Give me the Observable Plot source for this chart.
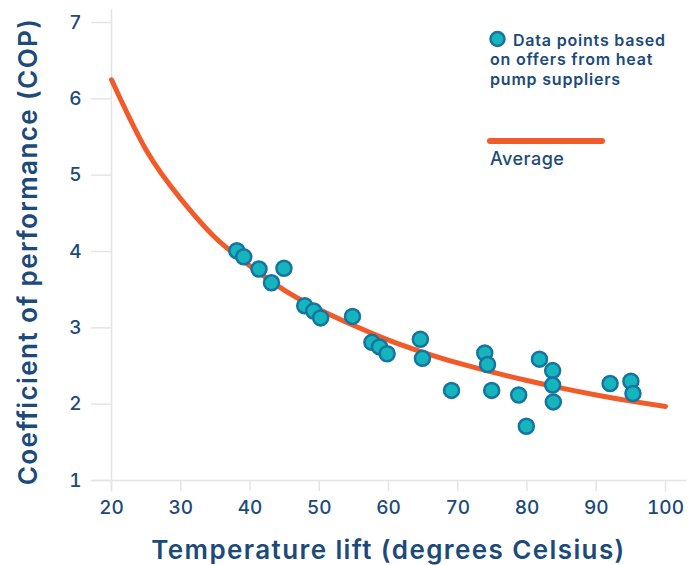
<!DOCTYPE html>
<html>
<head>
<meta charset="utf-8">
<script src="https://cdn.jsdelivr.net/npm/d3@7"></script>
<script src="https://cdn.jsdelivr.net/npm/@observablehq/plot@0.6"></script>
<style>
  html, body { margin: 0; padding: 0; background: #fff; }
  #chart svg { display: block; }
</style>
</head>
<body>
<div id="chart"></div>
<script>
// Data points based on offers from heat pump suppliers
const liftC = [38.1, 39.1, 41.3, 44.9, 43.1, 47.9, 49.2, 50.2, 54.8, 57.6, 58.7, 59.8, 64.6, 64.9, 69.1, 73.9, 74.3, 74.9, 78.8, 79.9, 81.8, 83.7, 83.7, 83.8, 92.0, 95.0, 95.3];
const cop   = [4.01, 3.93, 3.77, 3.78, 3.59, 3.29, 3.22, 3.13, 3.15, 2.81, 2.75, 2.66, 2.85, 2.60, 2.18, 2.67, 2.52, 2.18, 2.12, 1.71, 2.59, 2.44, 2.25, 2.03, 2.27, 2.30, 2.14];

// Average curve
const avgLift = [20, 25, 30, 35, 40, 45, 50, 55, 60, 65, 70, 75, 80, 85, 90, 95, 100];
const avgCop  = [6.25, 5.33, 4.69, 4.18, 3.81, 3.49, 3.24, 3.03, 2.84, 2.68, 2.54, 2.42, 2.31, 2.21, 2.12, 2.04, 1.97];

const xTicks = [20, 30, 40, 50, 60, 70, 80, 90, 100];
const yTicks = [1, 2, 3, 4, 5, 6, 7];

const xTitle = "Temperature lift (degrees Celsius)";
const yTitle = "Coefficient of performance (COP)";
const legendDots = ["Data points based", "on offers from heat", "pump suppliers"];
const legendLine = "Average";

const points = liftC.map((x, i) => ({x, y: cop[i]}));
const avg = avgLift.map((x, i) => ({x, y: avgCop[i]}));

const navy = "#1c4a7a";
const grid = "#e4e4e4";
const orange = "#f15a29";
const teal = "#14b5bd";
const tealStroke = "#17739f";
const font = "Inter, 'Open Sans', sans-serif";

const chart = Plot.plot({
  width: 699,
  height: 565,
  marginLeft: 111,
  marginRight: 34,
  marginTop: 22,
  marginBottom: 85,
  style: {fontFamily: font, color: navy, background: "#fff"},
  x: {domain: [20, 100]},
  y: {domain: [1, 7]},
  marks: [
    Plot.ruleY([1], {x1: 17.1, x2: 103.1, stroke: grid, strokeWidth: 1.5}),
    Plot.ruleX([20], {y1: 0.85, y2: 7.17, stroke: grid, strokeWidth: 1.5}),
    Plot.axisX({ticks: xTicks, tickSize: 11, tickPadding: 9, stroke: grid, strokeWidth: 1.5, fill: navy, fontSize: 19, fontWeight: 500, label: null, tickFormat: d => String(d)}),
    Plot.axisY({ticks: yTicks, tickSize: 20, tickPadding: 10, stroke: grid, strokeWidth: 1.5, fill: navy, fontSize: 19, fontWeight: 500, label: null, tickFormat: d => String(d)}),
    Plot.line(avg, {x: "x", y: "y", curve: "natural", stroke: orange, strokeWidth: 5, strokeLinecap: "round"}),
    Plot.dot(points, {x: "x", y: "y", r: 7.5, fill: teal, stroke: tealStroke, strokeWidth: 2.5}),
    Plot.text([xTitle], {frameAnchor: "bottom", textAnchor: "middle", lineAnchor: "bottom", dy: 78.5, fontSize: 26, fontWeight: 600, fill: navy}),
    Plot.text([yTitle], {frameAnchor: "left", textAnchor: "middle", rotate: -90, lineAnchor: "middle", dx: -82.6, fontSize: 26, fontWeight: 600, fill: navy})
  ]
});

const svg = d3.select(chart);
// widen axis titles to match the reference spacing
svg.selectAll("text").filter(function() { return this.textContent === xTitle || this.textContent === yTitle; })
  .attr("letter-spacing", 1.4);

// Legend in the upper right
const lg = svg.append("g").attr("font-family", font).attr("fill", navy).attr("font-size", 16).attr("font-weight", 600).attr("text-anchor", "start").attr("letter-spacing", 0.8);
lg.append("circle").attr("cx", 497.5).attr("cy", 39).attr("r", 7).attr("fill", teal).attr("stroke", tealStroke).attr("stroke-width", 2.5);
lg.append("text").attr("x", 513).attr("y", 45.5).text(legendDots[0]);
lg.append("text").attr("x", 490).attr("y", 65).text(legendDots[1]);
lg.append("text").attr("x", 490).attr("y", 84.5).text(legendDots[2]);
lg.append("line").attr("x1", 490).attr("x2", 602).attr("y1", 141).attr("y2", 141).attr("stroke", orange).attr("stroke-width", 6).attr("stroke-linecap", "round");
lg.append("text").attr("x", 490).attr("y", 165).attr("font-weight", 500).attr("font-size", 18).attr("letter-spacing", 0.5).text(legendLine);

document.getElementById("chart").appendChild(chart);
</script>
</body>
</html>
